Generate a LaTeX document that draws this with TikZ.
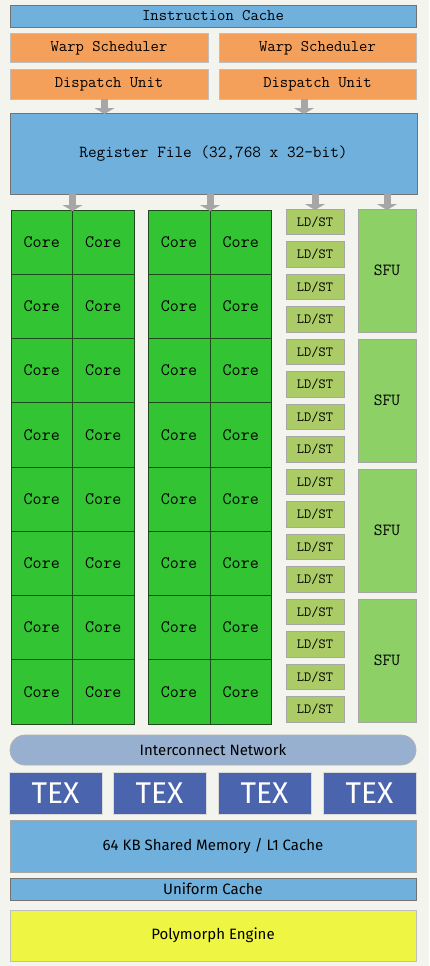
\documentclass[tikz,border=0pt]{standalone}
\usepackage{fontspec}
\setmainfont{Fira Sans}
\usetikzlibrary{arrows.meta}
\definecolor{bgc}{HTML}{F4F4EF}
\definecolor{blu}{HTML}{70B0DC}
\definecolor{org}{HTML}{F4A05A}
\definecolor{grn}{HTML}{33C433}
\definecolor{grnb}{HTML}{1E4A1E}
\definecolor{ldst}{HTML}{AACB66}
\definecolor{sfu}{HTML}{8DD066}
\definecolor{icn}{HTML}{98B0D0}
\definecolor{tex}{HTML}{4A64AE}
\definecolor{yel}{HTML}{EEF542}
\definecolor{arr}{HTML}{A6A6A6}
\tikzset{
  base/.style={inner sep=0pt, outer sep=0pt, anchor=north west},
  bluebox/.style={base, fill=blu, draw=black!55, line width=0.9pt},
  orgbox/.style={base, fill=org, draw=black!25, line width=1pt},
  corebox/.style={base, fill=grn, draw=grnb, line width=0.8pt, font=\ttfamily\fontsize{17.5}{17.5}\selectfont},
  ldbox/.style={base, fill=ldst, draw=black!35, line width=0.8pt, font=\ttfamily\fontsize{14}{14}\selectfont},
  sfubox/.style={base, fill=sfu, draw=black!35, line width=0.8pt, font=\ttfamily\fontsize{17}{17}\selectfont},
  texbox/.style={base, fill=tex, draw=black!15, line width=0.6pt, text=white, font=\fontsize{30}{30}\selectfont},
  monotext/.style={font=\ttfamily\fontsize{16.2}{16.2}\selectfont},
  sanstext/.style={font=\fontsize{15}{15}\selectfont},
  garrow/.style={draw=arr, line width=7pt, -{Triangle[width=20pt,length=6pt]}, shorten >=-1pt},
}
% \bx{name}{style}{x1}{y1}{x2}{y2}{text}
\newcommand{\bx}[7]{\node[#2, minimum width={(#5-#3)*1pt}, minimum height={(#6-#4)*1pt}] (#1) at (#3,#4) {#7};}
\begin{document}
\begin{tikzpicture}[x=1pt,y=-1pt]
\fill[bgc] (0,0) rectangle (429,966);
\useasboundingbox (0,0) rectangle (429,966);
% top
\bx{ic}{bluebox,monotext}{10}{5}{416}{27}{Instruction Cache}
\bx{ws1}{orgbox,monotext}{10}{34}{208}{63}{Warp Scheduler}
\bx{ws2}{orgbox,monotext}{219}{34}{416}{63}{Warp Scheduler}
\bx{du1}{orgbox,monotext}{10}{70}{208}{99}{Dispatch Unit}
\bx{du2}{orgbox,monotext}{219}{70}{416}{99}{Dispatch Unit}
\bx{rf}{bluebox,monotext,font=\ttfamily\fontsize{16.8}{16.8}\selectfont}{10}{113}{417}{194}{Register File (32,768 x 32-bit)}
\coordinate (a1) at (104.5,0);
\coordinate (a2) at (304,0);
\draw[garrow] (du1.south -| a1) -- (rf.north -| a1);
\draw[garrow] (du2.south -| a2) -- (rf.north -| a2);
% cores
\foreach \r in {0,...,7}{
  \pgfmathsetmacro{\ya}{210+64.25*\r}
  \pgfmathsetmacro{\yb}{210+64.25*(\r+1)}
  \bx{ca\r}{corebox}{11}{\ya}{72.5}{\yb}{Core}
  \bx{cb\r}{corebox}{72.5}{\ya}{134}{\yb}{Core}
  \bx{cc\r}{corebox}{148}{\ya}{210}{\yb}{Core}
  \bx{cd\r}{corebox}{210}{\ya}{271.5}{\yb}{Core}
}
\foreach \i in {0,...,15}{
  \pgfmathsetmacro{\ya}{209+32.5*\i}
  \pgfmathsetmacro{\yb}{234.5+32.5*\i}
  \bx{ld\i}{ldbox}{286}{\ya}{344}{\yb}{LD/ST}
}
\foreach \j in {0,...,3}{
  \pgfmathsetmacro{\ya}{209+130*\j}
  \pgfmathsetmacro{\yb}{332+130*\j}
  \bx{sf\j}{sfubox}{358}{\ya}{416}{\yb}{SFU}
}
\coordinate (b1) at (72.5,0);
\coordinate (b2) at (210,0);
\draw[garrow] (rf.south -| b1) -- (ca0.north -| b1);
\draw[garrow] (rf.south -| b2) -- (cc0.north -| b2);
\draw[garrow] (rf.south -| ld0.north) -- (ld0.north);
\draw[garrow] (rf.south -| sf0.north) -- (sf0.north);
% bottom
\node[base, fill=icn, draw=black!30, line width=0.8pt, rounded corners=15pt,
  minimum width=406pt, minimum height=30pt, sanstext] (icnet) at (10,735) {Interconnect Network};
\bx{t1}{texbox}{9}{772}{102}{814}{TEX}
\bx{t2}{texbox}{113}{772}{206}{814}{TEX}
\bx{t3}{texbox}{218}{772}{311}{814}{TEX}
\bx{t4}{texbox}{323}{772}{416}{814}{TEX}
\bx{sm}{bluebox,sanstext,draw=black!35}{10}{820}{416}{872}{64 KB Shared Memory / L1 Cache}
\bx{uc}{bluebox,sanstext}{10}{878}{416}{900}{Uniform Cache}
\bx{pe}{base,fill=yel,draw=black!25,line width=0.8pt,sanstext}{10}{910}{416}{961}{Polymorph Engine}
\end{tikzpicture}
\end{document}
